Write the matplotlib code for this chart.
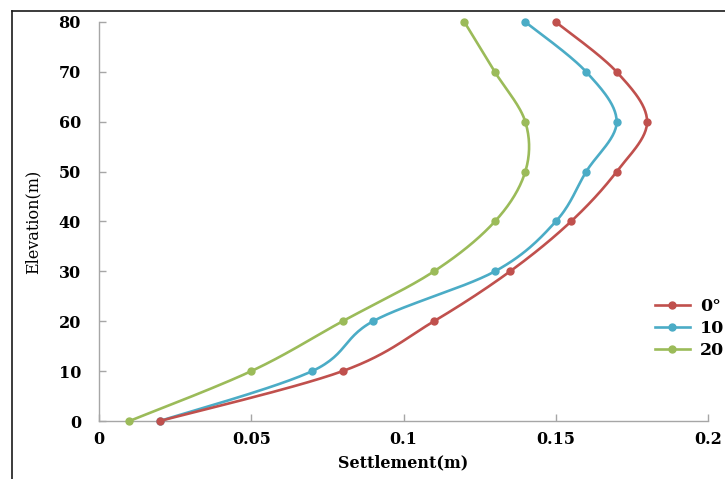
import numpy as np
import matplotlib
matplotlib.use("Agg")
import matplotlib.pyplot as plt
from matplotlib.lines import Line2D

elevation = [0, 10, 20, 30, 40, 50, 60, 70, 80]
settle_0 = [0.02, 0.08, 0.11, 0.135, 0.155, 0.17, 0.18, 0.17, 0.15]
settle_10 = [0.02, 0.07, 0.09, 0.13, 0.15, 0.16, 0.17, 0.16, 0.14]
settle_20 = [0.01, 0.05, 0.08, 0.11, 0.13, 0.14, 0.14, 0.13, 0.12]
labels = ["0°", "10", "20"]
colors = ["#C0504D", "#4BACC6", "#9BBB59"]
xticks = [0, 0.05, 0.1, 0.15, 0.2]
xticklabels = ["0", "0.05", "0.1", "0.15", "0.2"]
yticks = [0, 10, 20, 30, 40, 50, 60, 70, 80]

plt.rcParams['font.family'] = ['DejaVu Serif']

W, H = 725, 479
fig = plt.figure(figsize=(W / 100, H / 100), dpi=100)
L, R, B, T = 99 / W, 708 / W, 1 - 421 / H, 1 - 22 / H
ax = fig.add_axes([L, B, R - L, T - B])

XMAX, YMAX = 0.2, 80
sx, sy = (R - L) * W / XMAX, (T - B) * H / YMAX


def smooth(xs, ys, n=30):
    P = np.column_stack([np.array(xs) * sx, np.array(ys) * sy])
    out = []
    m = len(P)
    for i in range(m - 1):
        p0 = P[i - 1] if i > 0 else P[i]
        p1, p2 = P[i], P[i + 1]
        p3 = P[i + 2] if i + 2 < m else P[i + 1]
        c1 = p1 + (p2 - p0) / 6
        c2 = p2 - (p3 - p1) / 6
        t = np.linspace(0, 1, n)[:, None]
        seg = (1 - t) ** 3 * p1 + 3 * (1 - t) ** 2 * t * c1 + 3 * (1 - t) * t ** 2 * c2 + t ** 3 * p2
        out.append(seg if i == 0 else seg[1:])
    S = np.vstack(out)
    return S[:, 0] / sx, S[:, 1] / sy


series = [settle_0, settle_10, settle_20]
for k, (xs, c) in enumerate(zip(series, colors)):
    cx, cy = smooth(xs, elevation)
    z = 10 - 2 * k
    ax.plot(cx, cy, color=c, lw=1.9, solid_capstyle='round', zorder=z, clip_on=False)
    ax.plot(xs, elevation, 'o', color=c, ms=5, zorder=z + 1, clip_on=False)

ax.set_xlim(0, XMAX)
ax.set_ylim(0, YMAX)
ax.set_xticks(xticks)
ax.set_xticklabels(xticklabels)
ax.set_yticks(yticks)
for s in ['top', 'right']:
    ax.spines[s].set_visible(False)
for s in ['left', 'bottom']:
    ax.spines[s].set_color('#A6A6A6')
    ax.spines[s].set_linewidth(1.0)
ax.tick_params(axis='both', direction='in', length=5, color='#A6A6A6', width=1.0)
ax.tick_params(axis='x', pad=7)
ax.tick_params(axis='y', pad=13)
for lab in ax.get_xticklabels() + ax.get_yticklabels():
    lab.set_fontsize(11.5)
    lab.set_fontweight('bold')

ax.set_xlabel("Settlement(m)", fontsize=11.5, fontweight='bold', labelpad=5)
ax.set_ylabel("Elevation(m)", fontsize=11.5, labelpad=12)

handles = [Line2D([0], [0], color=c, lw=1.9, marker='o', ms=5) for c in colors]
fig.legend(handles, labels, loc='upper left', bbox_to_anchor=(655 / W, 1 - 298 / H),
           frameon=False, prop={'size': 12.5, 'weight': 'bold'}, handlelength=2.0,
           handletextpad=0.6, labelspacing=0.3, borderaxespad=0, borderpad=0)

# outer frame lines (top and left)
fig.add_artist(Line2D([12 / W, 1], [1 - 11 / H, 1 - 11 / H], color='#1a1a1a', lw=1.2, transform=fig.transFigure))
fig.add_artist(Line2D([12 / W, 12 / W], [0, 1 - 11 / H], color='#1a1a1a', lw=1.2, transform=fig.transFigure))

fig.savefig("out.png", dpi=100)
